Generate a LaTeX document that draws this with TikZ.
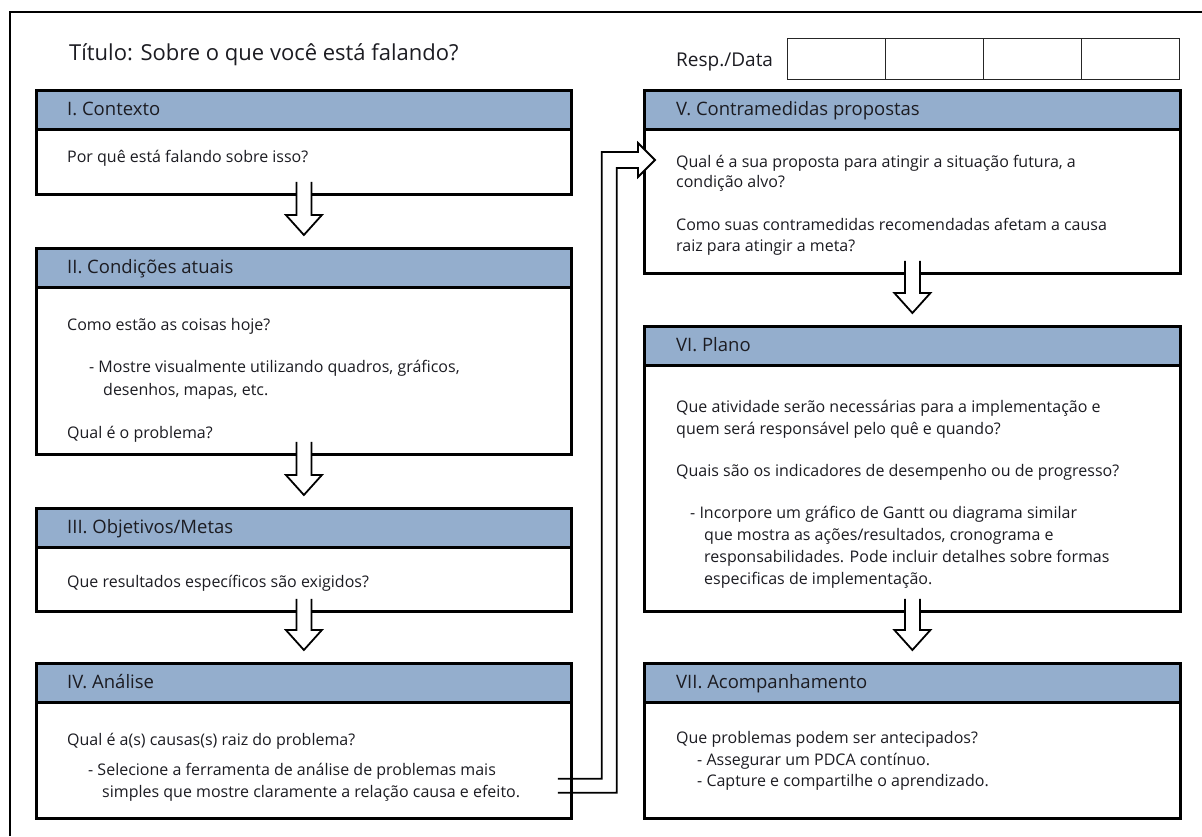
\documentclass[tikz,border=0pt]{standalone}
\usepackage{fontspec}
\setmainfont{Open Sans}
\usetikzlibrary{calc}
\definecolor{hdrblue}{RGB}{148,174,205}
\definecolor{ink}{RGB}{28,28,34}
\tikzset{
  box/.style={draw=black, line width=2.8pt, fill=white, rectangle, inner sep=0pt, anchor=north west, minimum width=535pt},
  hdr/.style={draw=black, line width=2.8pt, fill=hdrblue, rectangle, inner sep=0pt, anchor=north west, minimum width=535pt, minimum height=39pt},
  htxt/.style={anchor=base west, inner sep=0pt, font=\fontsize{18.5}{23}\selectfont, text=ink},
  btxt/.style={anchor=base west, inner sep=0pt, font=\fontsize{16}{21}\selectfont, text=ink},
  cell/.style={draw=black!85, line width=1.3pt, rectangle, inner sep=0pt, anchor=north west, minimum width=98pt, minimum height=41pt},
  arrowline/.style={draw=black, line width=1.8pt, line join=miter},
  frameline/.style={draw=black, line width=2.8pt}
}
\newcommand\dnarrow[2]{%
  \fill[white] ($(#1.south)+(-7.5,-14)$) -- ($(#2.north)+(-7.5,-32)$) -- ($(#2.north)+(-18,-32)$) -- ($(#2.north)+(0,-12)$) -- ($(#2.north)+(18,-32)$) -- ($(#2.north)+(7.5,-32)$) -- ($(#1.south)+(7.5,-14)$) -- cycle;
  \draw[arrowline] ($(#1.south)+(-7.5,-14)$) -- ($(#2.north)+(-7.5,-32)$) -- ($(#2.north)+(-18,-32)$) -- ($(#2.north)+(0,-12)$) -- ($(#2.north)+(18,-32)$) -- ($(#2.north)+(7.5,-32)$) -- ($(#1.south)+(7.5,-14)$);
}
\begin{document}
\begin{tikzpicture}[x=1pt,y=-1pt]
\useasboundingbox (0,0) rectangle (1202,836);
\fill[white] (0,0) rectangle (1202,836);
\draw[frameline] (10,836) -- (10,12) -- (1202,12);

% title and table
\node[anchor=base west, inner sep=0pt, font=\fontsize{22}{27}\selectfont, text=ink] (title) at (69,60) {Título: Sobre o que você está falando?};
\node[anchor=base west, inner sep=0pt, font=\fontsize{19}{23}\selectfont, text=ink] (resp) at (676,66) {Resp./Data};
\node[cell] (c1) at (787,38) {};
\node[cell] (c2) at (885,38) {};
\node[cell] (c3) at (983,38) {};
\node[cell] (c4) at (1081,38) {};

% boxes left
\node[box, minimum height=104pt] (bI) at (35,89) {};
\node[hdr] (hI) at (bI.north west) {};
\node[box, minimum height=206pt] (bII) at (35,247) {};
\node[hdr] (hII) at (bII.north west) {};
\node[box, minimum height=103pt] (bIII) at (35,507) {};
\node[hdr] (hIII) at (bIII.north west) {};
\node[box, minimum height=155pt] (bIV) at (35,662) {};
\node[hdr] (hIV) at (bIV.north west) {};
% boxes right
\node[box, minimum height=183pt, minimum width=536pt] (bV) at (643,89) {};
\node[hdr, minimum width=536pt] (hV) at (bV.north west) {};
\node[box, minimum height=285pt, minimum width=536pt] (bVI) at (643,325) {};
\node[hdr, minimum width=536pt] (hVI) at (bVI.north west) {};
\node[box, minimum height=155pt, minimum width=536pt] (bVII) at (643,662) {};
\node[hdr, minimum width=536pt] (hVII) at (bVII.north west) {};

% header texts
\node[htxt] (tI) at (67,115) {I. Contexto};
\node[htxt] (tII) at (67,273) {II. Condições atuais};
\node[htxt] (tIII) at (67,533) {III. Objetivos/Metas};
\node[htxt] (tIV) at (67,688) {IV. Análise};
\node[htxt] (tV) at (676,115) {V. Contramedidas propostas};
\node[htxt] (tVI) at (676,351) {VI. Plano};
\node[htxt] (tVII) at (676,688) {VII. Acompanhamento};

% body texts
\node[btxt] (I1) at (67,162) {Por quê está falando sobre isso?};
\node[btxt] (II1) at (67,330) {Como estão as coisas hoje?};
\node[btxt] (II2) at (89,372) {- Mostre visualmente utilizando quadros, gráficos,};
\node[btxt] (II3) at (103,395) {desenhos, mapas, etc.};
\node[btxt] (II4) at (67,438) {Qual é o problema?};
\node[btxt] (III1) at (67,587) {Que resultados específicos são exigidos?};
\node[btxt] (IV1) at (67,745) {Qual é a(s) causas(s) raiz do problema?};
\node[btxt] (IV2) at (88,775) {- Selecione a ferramenta de análise de problemas mais};
\node[btxt] (IV3) at (102,797) {simples que mostre claramente a relação causa e efeito.};
\node[btxt] (V1) at (676,167) {Qual é a sua proposta para atingir a situação futura, a};
\node[btxt] (V2) at (676,187) {condição alvo?};
\node[btxt] (V3) at (676,230) {Como suas contramedidas recomendadas afetam a causa};
\node[btxt] (V4) at (676,251) {raiz para atingir a meta?};
\node[btxt] (VI1) at (676,412) {Que atividade serão necessárias para a implementação e};
\node[btxt] (VI2) at (676,434) {quem será responsável pelo quê e quando?};
\node[btxt] (VI3) at (676,476) {Quais são os indicadores de desempenho ou de progresso?};
\node[btxt] (VI4) at (690,518) {- Incorpore um gráfico de Gantt ou diagrama similar};
\node[btxt] (VI5) at (704,540) {que mostra as ações/resultados, cronograma e};
\node[btxt] (VI6) at (704,562) {responsabilidades. Pode incluir detalhes sobre formas};
\node[btxt] (VI7) at (704,584) {especificas de implementação.};
\node[btxt] (VII1) at (676,743) {Que problemas podem ser antecipados?};
\node[btxt] (VII2) at (697,765) {- Assegurar um PDCA contínuo.};
\node[btxt] (VII3) at (697,786) {- Capture e compartilhe o aprendizado.};

% down arrows
\dnarrow{bI}{bII}
\dnarrow{bII}{bIII}
\dnarrow{bIII}{bIV}
\dnarrow{bV}{bVI}
\dnarrow{bVI}{bVII}

% connector IV -> V
\coordinate (s1) at ($(bIV.south east)+(-15,-41)$);
\coordinate (s2) at ($(bIV.south east)+(-15,-27)$);
\coordinate (v1) at ($(bIV.south east)+(29,0)$);
\coordinate (v2) at ($(bIV.south east)+(44,0)$);
\coordinate (h1) at ($(bV.north west)+(-5,63)$);
\coordinate (h2) at ($(bV.north west)+(-5,79)$);
\coordinate (ht) at ($(bV.north west)+(-5,54)$);
\coordinate (hb) at ($(bV.north west)+(-5,88)$);
\coordinate (tip) at ($(bV.north west)+(12,71)$);
\fill[white] (h1) -- (ht) -- (tip) -- (hb) -- (h2) -- cycle;
\draw[arrowline] (s1) -- (v1 |- s1) -- (v1 |- h1) -- (h1) -- (ht) -- (tip) -- (hb) -- (h2) -- (v2 |- h2) -- (v2 |- s2) -- (s2);
\end{tikzpicture}
\end{document}
